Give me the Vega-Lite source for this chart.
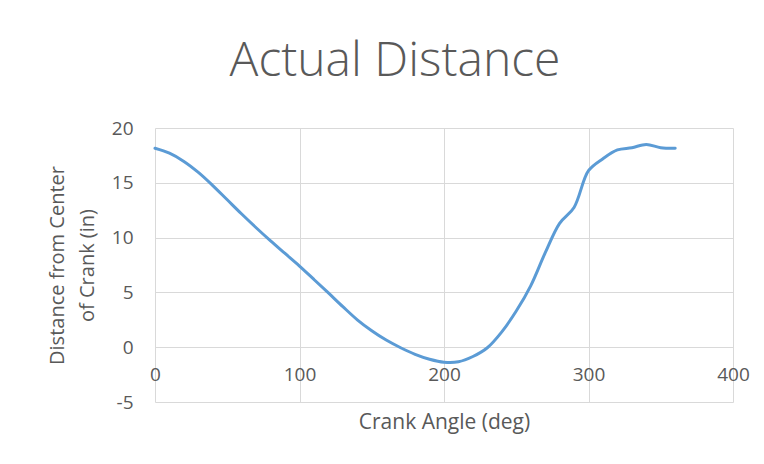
{
  "$schema": "https://vega.github.io/schema/vega-lite/v6.json",
  "autosize": "none",
  "width": 578,
  "height": 274,
  "padding": {"left": 155, "top": 128, "right": 31, "bottom": 62},
  "background": "white",
  "config": {
    "view": {"stroke": null},
    "font": "Open Sans"
  },
  "title": {
    "text": "Actual Distance",
    "fontSize": 48,
    "font": "Open Sans",
    "fontWeight": 300,
    "color": "#595959",
    "anchor": "middle",
    "dx": -49,
    "offset": 33
  },
  "data": {
    "values": [
      {"angle": 0, "distance": 18.15},
      {"angle": 10, "distance": 17.7},
      {"angle": 20, "distance": 16.95},
      {"angle": 30, "distance": 15.95},
      {"angle": 40, "distance": 14.75},
      {"angle": 50, "distance": 13.45},
      {"angle": 60, "distance": 12.15},
      {"angle": 70, "distance": 10.9},
      {"angle": 80, "distance": 9.7},
      {"angle": 90, "distance": 8.55},
      {"angle": 100, "distance": 7.4},
      {"angle": 110, "distance": 6.18},
      {"angle": 120, "distance": 4.95},
      {"angle": 130, "distance": 3.7},
      {"angle": 140, "distance": 2.5},
      {"angle": 150, "distance": 1.5},
      {"angle": 160, "distance": 0.65},
      {"angle": 170, "distance": -0.05},
      {"angle": 180, "distance": -0.65},
      {"angle": 190, "distance": -1.1},
      {"angle": 200, "distance": -1.37},
      {"angle": 210, "distance": -1.33},
      {"angle": 220, "distance": -0.85},
      {"angle": 230, "distance": -0.05},
      {"angle": 240, "distance": 1.4},
      {"angle": 250, "distance": 3.3},
      {"angle": 260, "distance": 5.6},
      {"angle": 270, "distance": 8.6},
      {"angle": 280, "distance": 11.3},
      {"angle": 290, "distance": 12.75},
      {"angle": 300, "distance": 16.1},
      {"angle": 310, "distance": 17.2},
      {"angle": 320, "distance": 18.0},
      {"angle": 330, "distance": 18.2},
      {"angle": 340, "distance": 18.5},
      {"angle": 350, "distance": 18.2},
      {"angle": 360, "distance": 18.15}
    ]
  },
  "mark": {"type": "line", "color": "#5b9bd5", "strokeWidth": 3, "interpolate": "catmull-rom", "strokeCap": "round"},
  "encoding": {
    "x": {
      "field": "angle",
      "type": "quantitative",
      "scale": {"domain": [0, 400], "nice": false},
      "axis": {
        "values": [0, 100, 200, 300, 400],
        "offset": -56,
        "domain": false,
        "ticks": false,
        "grid": true,
        "gridColor": "#d9d9d9",
        "gridWidth": 1,
        "labelFontSize": 19,
        "labelColor": "#595959",
        "labelPadding": 19,
        "labelFlush": false,
        "title": "Crank Angle (deg)",
        "titleFontSize": 21,
        "titleFontWeight": "normal",
        "titleColor": "#595959",
        "titleY": 76,
        "titleBaseline": "middle"
      }
    },
    "y": {
      "field": "distance",
      "type": "quantitative",
      "scale": {"domain": [-5, 20], "nice": false, "zero": false},
      "axis": {
        "values": [-5, 0, 5, 10, 15, 20],
        "labelExpr": "replace(datum.label, '−', '-')",
        "domain": false,
        "ticks": false,
        "grid": true,
        "gridColor": "#d9d9d9",
        "gridWidth": 1,
        "labelFontSize": 19,
        "labelColor": "#595959",
        "labelPadding": 22,
        "labelFlush": false,
        "title": ["Distance from Center", "of Crank (in)"],
        "titleFontSize": 20,
        "titleFontWeight": "normal",
        "titleColor": "#595959",
        "titleLineHeight": 30,
        "titlePadding": 14
      }
    }
  }
}
